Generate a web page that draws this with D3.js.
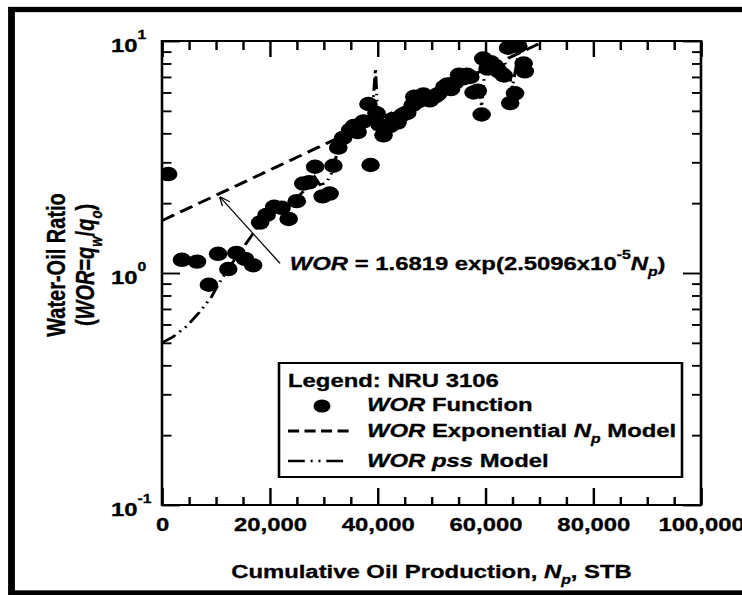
<!DOCTYPE html>
<html>
<head>
<meta charset="utf-8">
<script src="https://cdn.jsdelivr.net/npm/d3@7"></script>
<style>
  html, body { margin: 0; padding: 0; background: #fff; overflow: hidden; }
  text { stroke: #000; stroke-width: 0.3px; }
</style>
</head>
<body>
<div id="chart"></div>
<script>
// ---- Data: NRU 3106 water-oil ratio vs cumulative oil production ----
// WOR function points (Np in STB, WOR = qw/qo)
const worNp = [
  1150, 3700, 6500, 8700, 10400, 12300, 13800, 15400, 16900, 18200,
  19400, 20800, 22200, 23500, 25000, 26200, 27300, 28400, 29800, 31100,
  31800, 32700, 33600, 34900, 36300, 37400, 38300, 38700, 39800, 40400,
  41100, 42300, 43700, 44600, 45500, 46500, 46800, 47600, 48500, 49700,
  50600, 51200, 52400, 53600, 54300, 55100, 55900, 56600, 57800, 58600,
  59300, 59600, 60400, 61400, 62500, 63400, 64200, 64600, 65500, 66100,
  67100, 67300, 35600, 43000, 48000, 53000, 57200, 61000, 62000
];
const worValues = [
  2.67, 1.14, 1.12, 0.89, 1.21, 1.04, 1.22, 1.15, 1.08, 1.65,
  1.78, 1.93, 1.91, 1.71, 2.04, 2.43, 2.46, 2.87, 2.14, 2.20,
  2.90, 3.47, 3.82, 4.14, 4.05, 4.50, 5.35, 2.92, 4.88, 4.35,
  3.92, 4.30, 4.45, 4.80, 4.90, 5.30, 5.75, 5.50, 5.88, 5.55,
  5.75, 5.90, 6.35, 6.20, 6.60, 7.15, 6.90, 7.15, 6.00, 6.10,
  4.82, 8.40, 7.60, 7.85, 7.40, 7.10, 9.35, 5.40, 5.95, 9.50,
  8.00, 7.40, 4.30, 4.60, 5.60, 6.50, 7.00, 8.10, 7.70
];

// WOR pss model trace
const pssNp = [
  0, 2000, 4600, 7000, 9200, 10400, 12600, 15100, 16900, 18200,
  19800, 21500, 23200, 25000, 27000, 28300, 29300, 30500, 31500, 32500,
  34000, 36000, 37800, 38800, 39300, 39600, 39900, 40300, 42000, 44000,
  46000, 48000, 50000, 52000, 54000, 56000, 58000, 59000, 59300, 59800,
  60500, 62000, 63500, 64500, 65000, 65600, 66200, 67300
];
const pssValues = [
  0.50, 0.53, 0.59, 0.68, 0.79, 0.89, 1.07, 1.29, 1.48, 1.65,
  1.80, 1.92, 1.95, 2.10, 2.35, 2.60, 2.40, 2.45, 2.70, 3.30,
  3.80, 4.00, 4.30, 4.50, 6.00, 7.60, 5.50, 4.30, 4.30, 4.60,
  5.10, 5.60, 5.70, 6.20, 6.60, 7.00, 6.50, 5.90, 5.20, 7.00,
  8.00, 7.70, 8.20, 7.00, 6.30, 7.50, 9.00, 10.0
];

// Exponential Np model: WOR = a * exp(b * Np)
const expA = 1.6819;
const expB = 2.5096e-5;

// Axis ticks
const xMajorTicks = [0, 20000, 40000, 60000, 80000, 100000];
const xMinorTicks = d3.range(0, 100001, 5000).filter(v => v % 20000 !== 0);
const yDecades = [0.1, 1, 10];
const yExponents = ["-1", "0", "1"];
const yMinorTicks = [0.1, 1].flatMap(d => [2, 3, 4, 5, 6, 7, 8, 9].map(k => +(k * d).toFixed(3)));

// ---- Drawing ----
const WIDTH = 742, HEIGHT = 595;
const S = 1.29;                // horizontal stretch of the whole figure
const VW = WIDTH / S;
const X = px => px / S;        // pixel x -> drawing units
const FONT = "'Liberation Sans', Arial, Helvetica, sans-serif";
const FS = 18.5;

const svg = d3.select("#chart").append("svg")
  .attr("width", WIDTH).attr("height", HEIGHT)
  .attr("viewBox", `0 0 ${VW} ${HEIGHT}`)
  .attr("preserveAspectRatio", "none")
  .attr("font-family", FONT)
  .attr("font-weight", "bold");

svg.append("rect").attr("width", VW).attr("height", HEIGHT).attr("fill", "#fff");

// outer frame
svg.append("rect")
  .attr("x", X(11.5)).attr("y", 9.5)
  .attr("width", X(800)).attr("height", 583.5)
  .attr("fill", "none").attr("stroke", "#000").attr("stroke-width", 5.3);

const plot = { left: 162, right: 701, top: 41, bottom: 505 };
const x = d3.scaleLinear().domain([0, 100000]).range([X(plot.left), X(plot.right)]);
const y = d3.scaleLog().domain([0.1, 10]).range([plot.bottom, plot.top]);

svg.append("clipPath").attr("id", "plotClip")
  .append("rect")
  .attr("x", x(0)).attr("y", y(10))
  .attr("width", x(100000) - x(0)).attr("height", y(0.1) - y(10));

// rich text helper: parts with italic / sub / sup
function rich(sel, parts, size, supRaise = 0.62, subDrop = 0.3) {
  let off = 0;
  parts.forEach(p => {
    const target = p.sub ? size * subDrop : p.sup ? -size * supRaise : 0;
    const ts = sel.append("tspan").text(p.t);
    if (target - off !== 0) ts.attr("dy", target - off);
    off = target;
    if (p.sub || p.sup) ts.attr("font-size", size * 0.66);
    if (p.it) ts.attr("font-style", "italic");
  });
  return sel;
}

// ---- axes ----
function styleAxis(g) {
  g.select(".domain").remove();
  g.selectAll(".tick line").attr("stroke", "#000").attr("stroke-width", 1.9);
  return g;
}
styleAxis(svg.append("g").attr("transform", `translate(0,${plot.bottom})`)
  .call(d3.axisBottom(x).tickValues(xMinorTicks).tickSize(-8).tickFormat("")));
const xAxis = styleAxis(svg.append("g").attr("transform", `translate(0,${plot.bottom})`)
  .call(d3.axisBottom(x).tickValues(xMajorTicks).tickSize(-17).tickPadding(13)
    .tickFormat(d3.format(","))));
xAxis.selectAll("text")
  .attr("font-family", FONT).attr("font-weight", "bold")
  .attr("font-size", FS).attr("fill", "#000");
xAxis.attr("font-size", FS).attr("font-family", FONT);

styleAxis(svg.append("g").attr("transform", `translate(0,${plot.top})`)
  .call(d3.axisTop(x).tickValues(xMinorTicks).tickSize(-9).tickFormat("")));
styleAxis(svg.append("g").attr("transform", `translate(0,${plot.top})`)
  .call(d3.axisTop(x).tickValues(xMajorTicks).tickSize(-16).tickFormat("")));

styleAxis(svg.append("g").attr("transform", `translate(${x(0)},0)`)
  .call(d3.axisLeft(y).tickValues(yMinorTicks).tickSize(-X(9.5)).tickFormat("")));
styleAxis(svg.append("g").attr("transform", `translate(${x(0)},0)`)
  .call(d3.axisLeft(y).tickValues(yDecades).tickSize(-X(18)).tickFormat("")));
styleAxis(svg.append("g").attr("transform", `translate(${x(100000)},0)`)
  .call(d3.axisRight(y).tickValues(yMinorTicks).tickSize(-X(9)).tickFormat("")));
styleAxis(svg.append("g").attr("transform", `translate(${x(100000)},0)`)
  .call(d3.axisRight(y).tickValues(yDecades).tickSize(-X(18)).tickFormat("")));

// plot box
svg.append("rect")
  .attr("x", x(0)).attr("y", y(10))
  .attr("width", x(100000) - x(0)).attr("height", y(0.1) - y(10))
  .attr("fill", "none").attr("stroke", "#000").attr("stroke-width", 2);

// y tick labels 10^n
yDecades.forEach((d, i) => {
  const t = svg.append("text")
    .attr("x", X(111)).attr("y", y(d) + 11)
    .attr("font-size", FS).attr("fill", "#000");
  rich(t, [{ t: "10" }, { t: yExponents[i], sup: true }], FS, 0.72);
});

// axis titles
const xTitle = svg.append("text")
  .attr("x", X((plot.left + plot.right) / 2)).attr("y", 578)
  .attr("text-anchor", "middle").attr("font-size", FS).attr("fill", "#000");
rich(xTitle, [
  { t: "Cumulative Oil Production, " },
  { t: "N", it: true }, { t: "p", it: true, sub: true },
  { t: ", STB" }
], FS);

const yTitle = svg.append("g").attr("transform", `translate(${X(65)},265) rotate(-90)`);
yTitle.append("text")
  .attr("text-anchor", "middle").attr("font-size", 20).attr("fill", "#000")
  .text("Water-Oil Ratio");
const yTitle2 = yTitle.append("text")
  .attr("y", X(94.5) - X(65))
  .attr("text-anchor", "middle").attr("font-size", 20).attr("fill", "#000");
rich(yTitle2, [
  { t: "(" }, { t: "WOR", it: true }, { t: "=" },
  { t: "q", it: true }, { t: "w", it: true, sub: true },
  { t: "/" },
  { t: "q", it: true }, { t: "o", it: true, sub: true },
  { t: ")" }
], 20);

// ---- series ----
const clipped = svg.append("g").attr("clip-path", "url(#plotClip)");

// exponential Np model from the stated coefficients
const expNp = d3.range(0, 75001, 1000);
const expLine = d3.line().x(d => x(d)).y(d => y(expA * Math.exp(expB * d)));
clipped.append("path")
  .datum(expNp)
  .attr("d", expLine)
  .attr("fill", "none").attr("stroke", "#000")
  .attr("stroke-width", 2.8)
  .attr("stroke-dasharray", "11,5.5");

// pss model
const pssLine = d3.line().x(d => x(d[0])).y(d => y(d[1]));
clipped.append("path")
  .datum(pssNp.map((n, i) => [n, pssValues[i]]))
  .attr("d", pssLine)
  .attr("fill", "none").attr("stroke", "#000")
  .attr("stroke-width", 2.4)
  .attr("stroke-dasharray", "13,4.5,1.6,4.5,1.6,4.5");

// WOR function points
clipped.append("g").selectAll("circle")
  .data(worNp.map((n, i) => [n, worValues[i]]))
  .join("circle")
  .attr("cx", d => x(d[0])).attr("cy", d => y(d[1]))
  .attr("r", 7.2).attr("fill", "#000");

// ---- annotation ----
svg.append("defs").append("marker")
  .attr("id", "arrowHead")
  .attr("viewBox", "0 0 10 10").attr("refX", 9).attr("refY", 5)
  .attr("markerWidth", 9).attr("markerHeight", 9)
  .attr("markerUnits", "userSpaceOnUse")
  .attr("orient", "auto")
  .append("path").attr("d", "M0,1 L10,5 L0,9")
  .attr("fill", "none").attr("stroke", "#000").attr("stroke-width", 1.2);

const arrowTail = [21900, 1.10];
const arrowTip = [10800, 2.12];
svg.append("line")
  .attr("x1", x(arrowTail[0])).attr("y1", y(arrowTail[1]))
  .attr("x2", x(arrowTip[0])).attr("y2", y(arrowTip[1]))
  .attr("stroke", "#000").attr("stroke-width", 1.1)
  .attr("marker-end", "url(#arrowHead)");

const eq = svg.append("text")
  .attr("x", x(23700)).attr("y", y(1.03))
  .attr("font-size", FS).attr("fill", "#000");
rich(eq, [
  { t: "WOR", it: true },
  { t: " = 1.6819 exp(2.5096x10" },
  { t: "-5", sup: true },
  { t: "N", it: true }, { t: "p", it: true, sub: true },
  { t: ")" }
], FS, 0.62);

// ---- legend ----
const lg = svg.append("g");
lg.append("rect")
  .attr("x", X(279)).attr("y", 363)
  .attr("width", X(682) - X(279)).attr("height", 114)
  .attr("fill", "#fff").attr("stroke", "#000").attr("stroke-width", 2);
lg.append("text").attr("x", X(288)).attr("y", 387)
  .attr("font-size", FS).attr("fill", "#000").text("Legend: NRU 3106");

lg.append("ellipse").attr("cx", X(322)).attr("cy", 406)
  .attr("rx", 6.6).attr("ry", 6.6).attr("fill", "#000");
rich(lg.append("text").attr("x", X(367)).attr("y", 411).attr("font-size", FS).attr("fill", "#000"),
  [{ t: "WOR", it: true }, { t: " Function" }], FS);

lg.append("line").attr("x1", X(288)).attr("x2", X(352)).attr("y1", 431).attr("y2", 431)
  .attr("stroke", "#000").attr("stroke-width", 2.8).attr("stroke-dasharray", "8.6,4.2");
rich(lg.append("text").attr("x", X(367)).attr("y", 437.5).attr("font-size", FS).attr("fill", "#000"),
  [{ t: "WOR", it: true }, { t: " Exponential " }, { t: "N", it: true }, { t: "p", it: true, sub: true }, { t: " Model" }], FS);

lg.append("line").attr("x1", X(288)).attr("x2", X(352)).attr("y1", 461).attr("y2", 461)
  .attr("stroke", "#000").attr("stroke-width", 2.6).attr("stroke-dasharray", "13,4.5,1.6,4.5,1.6,4.5,13");
rich(lg.append("text").attr("x", X(367)).attr("y", 467).attr("font-size", FS).attr("fill", "#000"),
  [{ t: "WOR", it: true }, { t: " " }, { t: "pss", it: true }, { t: " Model" }], FS);
</script>
</body>
</html>
